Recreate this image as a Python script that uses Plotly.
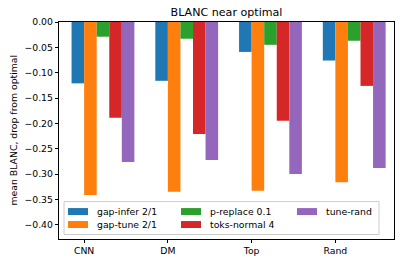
import plotly.graph_objects as go

categories = ["CNN", "DM", "Top", "Rand"]
series_names = ["gap-infer 2/1", "gap-tune 2/1", "p-replace 0.1", "toks-normal 4", "tune-rand"]
gap_infer = [-0.121, -0.116, -0.059, -0.076]
gap_tune = [-0.341, -0.335, -0.333, -0.316]
p_replace = [-0.029, -0.033, -0.045, -0.037]
toks_normal = [-0.189, -0.221, -0.195, -0.126]
tune_rand = [-0.276, -0.272, -0.300, -0.288]

series_values = [gap_infer, gap_tune, p_replace, toks_normal, tune_rand]
colors = ["#1f77b4", "#ff7f0e", "#2ca02c", "#d62728", "#9467bd"]

W = 0.15
x_idx = list(range(len(categories)))

# plot area in pixels
L, R, T, B = 59, 394, 22, 239.5
FW, FH = 400, 264


def px(x):
    return (x - L) / (R - L)


def py(y):
    return (B - y) / (B - T)


fig = go.Figure()
for k, (name, vals, col) in enumerate(zip(series_names, series_values, colors)):
    fig.add_trace(go.Bar(
        x=x_idx, y=vals, name=name, marker_color=col, marker_line_width=0,
        width=W, offset=(k - 1) * W, showlegend=False,
    ))

shapes = []
annotations = []
# legend box
shapes.append(dict(type="rect", xref="paper", yref="paper",
                   x0=px(64), x1=px(379), y0=py(235), y1=py(202),
                   fillcolor="rgba(255,255,255,0.8)", line=dict(color="#cccccc", width=1),
                   layer="above"))
col_x = [68, 181, 297]
row_y = [212, 225]
for k, (name, col) in enumerate(zip(series_names, colors)):
    cx = col_x[k // 2]
    cy = row_y[k % 2]
    shapes.append(dict(type="rect", xref="paper", yref="paper",
                       x0=px(cx), x1=px(cx + 20), y0=py(cy + 3.5), y1=py(cy - 3.5),
                       fillcolor=col, line=dict(width=0), layer="above"))
    annotations.append(dict(text=name, xref="paper", yref="paper", x=px(cx + 27), y=py(cy),
                            xanchor="left", yanchor="middle", showarrow=False,
                            font=dict(size=9.3, color="black")))

annotations.append(dict(text="mean BLANC, drop from optimal", xref="paper", yref="paper",
                        x=px(13), y=0.5, textangle=-90, xanchor="center", yanchor="middle",
                        showarrow=False, font=dict(size=9.3, color="black")))

fig.update_layout(
    width=FW, height=FH,
    margin=dict(l=L, r=FW - R, t=T, b=FH - B, autoexpand=False),
    plot_bgcolor="white", paper_bgcolor="white",
    font=dict(family="DejaVu Sans", size=9.3, color="black"),
    barmode="overlay",
    title=dict(text="BLANC near optimal", x=(L + R) / 2 / FW, xanchor="center",
               y=1 - 12 / FH, yanchor="middle", font=dict(size=11.1)),
    showlegend=False,
    shapes=shapes,
    annotations=annotations,
)
fig.update_xaxes(range=[-0.3, 3.7], tickvals=x_idx, ticktext=categories,
                 showgrid=False, zeroline=False, showline=True, linecolor="black", linewidth=1,
                 mirror=True, ticks="outside", ticklen=3.2, tickcolor="black", automargin=False)
fig.update_yaxes(range=[-0.428, 0.0], tickvals=[0, -0.05, -0.1, -0.15, -0.2, -0.25, -0.3, -0.35, -0.4],
                 tickformat=".2f", showgrid=False, zeroline=False, showline=True, linewidth=1,
                 linecolor="black", mirror=True, ticks="outside", ticklen=3.2, tickcolor="black",
                 automargin=False)

fig.write_html("out.html", config={"displayModeBar": False},
               post_script="document.body.style.margin='0';")
